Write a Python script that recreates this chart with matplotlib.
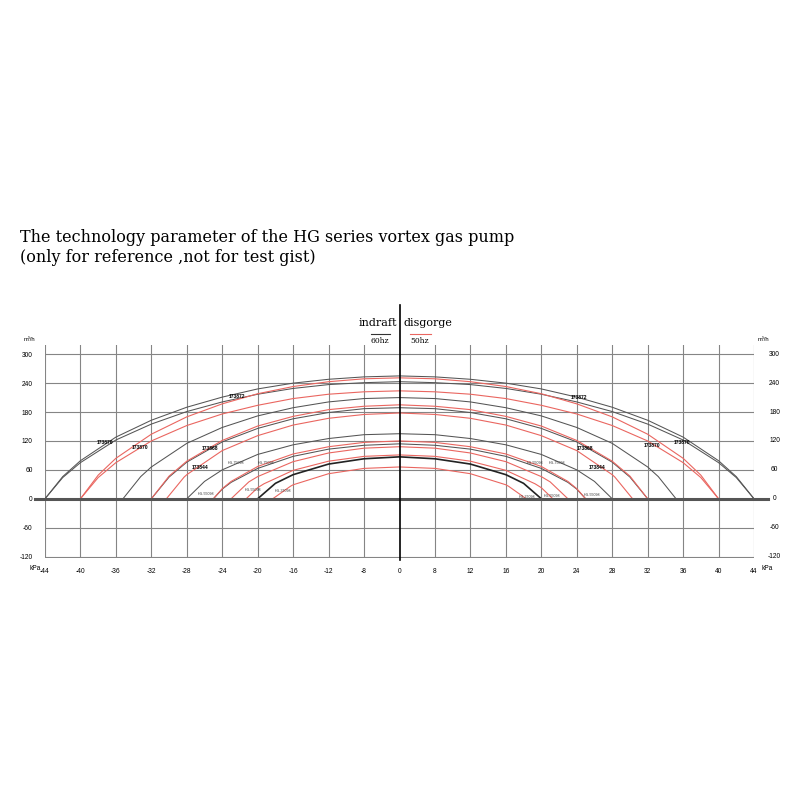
import numpy as np
import matplotlib.pyplot as plt

# axis ticks (the pressure axis is not linear: -8..8 gets one grid step)
kpa_ticks = [-44, -40, -36, -32, -28, -24, -20, -16, -12, -8, 0,
             8, 12, 16, 20, 24, 28, 32, 36, 40, 44]
flow_ticks = [300, 240, 180, 120, 60, 0, -60, -120]

# pressure stations (kPa) where the flow of each curve was read
stations = [0, 8, 12, 16, 20, 24, 28, 32, 36, 40]

# 60hz curves (black): pressure at zero flow, flow at each station,
# and flow 2 kPa before the zero-flow end
black_end = [44, 44, 35.2, 32, 28, 25, 20]
black_flow = [
    [255, 253, 248, 240, 228, 211, 190, 163, 128, 79],
    [243, 241, 237, 229, 217, 201, 181, 155, 122, 75],
    [210, 208, 201, 189, 172, 148, 115, 66],
    [189, 187, 179, 166, 146, 118, 76],
    [135, 133, 125, 112, 92, 60],
    [114, 111, 103, 88, 63, 20],
    [87, 83, 72, 50],
]
black_foot = [46, 44, 46, 45, 36, 34, 32]

# 50hz curves (red)
red_end = [40, 40, 32, 30.3, 25, 23, 21.3, 18.3]
red_flow = [
    [251, 249, 243, 233, 218, 197, 170, 134, 84],
    [224, 222, 217, 208, 194, 176, 152, 120, 75],
    [195, 192, 185, 171, 151, 121, 78],
    [178, 175, 167, 153, 131, 100, 50],
    [120, 117, 108, 93, 67, 21],
    [108, 105, 95, 77, 46],
    [91, 88, 78, 59, 23],
    [66, 63, 52, 29],
]
red_foot = [49, 44, 47, 45, 36, 35, 31, 26]

# curve labels: text, kPa, flow
big_labels = [
    ("173870", -37.2, 116), ("173870", -33.3, 106), ("173872", -22.3, 212),
    ("173868", -25.4, 104), ("173844", -26.5, 64),
    ("173872", 24.2, 210), ("173870", 32.5, 110), ("173870", 35.9, 116),
    ("173868", 24.9, 104), ("173844", 26.3, 64),
]
small_labels = [
    ("HG-75098", -22.4, 75), ("HG-75098", -19.1, 75), ("HG-55098", -25.8, 10),
    ("HG-55098", -20.5, 19), ("HG-37098", -17.2, 17),
    ("HG-55098", 19.3, 75), ("HG-75098", 21.8, 75), ("HG-37098", 18.4, 4),
    ("HG-55098", 21.2, 6), ("HG-55098", 25.7, 8),
]

# kPa -> grid position, extended linearly past the ends
kp = np.array([-1044] + kpa_ticks + [1044], dtype=float)
ps = np.array([-250] + list(range(21)) + [270], dtype=float)


def fwd(x):
    return np.interp(x, kp, ps)


def inv(p):
    return np.interp(p, ps, kp)


fig = plt.figure(figsize=(8, 8), dpi=100)
ax = fig.add_axes([45 / 800, 242 / 800, 709 / 800, 213.4 / 800])
ax.set_xscale('function', functions=(fwd, inv))
ax.set_xlim(-44, 44)
ax.set_ylim(-123, 320)
for s in ax.spines.values():
    s.set_visible(False)

# grid
for k in kpa_ticks:
    if k != 0:
        ax.axvline(k, color='#858585', lw=0.8, zorder=1)
for f in flow_ticks:
    if f != 0:
        ax.axhline(f, color='#858585', lw=0.8, zorder=1)
ax.plot([-0.014, 1.02], [0, 0], transform=ax.get_yaxis_transform(),
        color='#555555', lw=2.2, clip_on=False, zorder=3)
ax.plot([0, 0], [-0.01, 1.186], transform=ax.get_xaxis_transform(),
        color='black', lw=1.2, clip_on=False, zorder=3)


def draw(end, flow, foot, color, lw):
    x = np.array(stations[:len(flow)] + [end - 2, end], dtype=float)
    y = np.array(flow + [foot, 0], dtype=float)
    o = np.argsort(x)
    x, y = x[o], y[o]
    xs = np.concatenate([-x[::-1], x[1:]])
    ys = np.concatenate([y[::-1], y[1:]])
    ax.plot(xs, ys, color=color, lw=lw, zorder=2, solid_joinstyle='round')


last = len(black_end) - 1
for i, (e, f, ft) in enumerate(zip(black_end, black_flow, black_foot)):
    draw(e, f, ft, '#222222' if i == last else '#555555',
         1.2 if i == last else 0.75)
for e, f, ft in zip(red_end, red_flow, red_foot):
    draw(e, f, ft, '#ea6660', 0.8)

for t, x, y in big_labels:
    ax.text(x, y, t, fontsize=3.6, fontweight='bold', ha='center',
            va='center', family='Liberation Sans', zorder=4)
for t, x, y in small_labels:
    ax.text(x, y, t, fontsize=2.6, ha='center', va='center',
            family='Liberation Sans', color='#333333', zorder=4)

# ticks and tick labels
ax.set_xticks(kpa_ticks)
ax.set_xticklabels([str(k) for k in kpa_ticks])
ax.set_yticks(flow_ticks)
ax.set_yticklabels([str(f) for f in flow_ticks])
ax.tick_params(length=0, labelsize=4.8, pad=7, labelfontfamily='Liberation Sans')
ax.tick_params(axis='y', pad=9)
yt = ax.get_yaxis_transform()
for f in flow_ticks:
    ax.text(1.029, f, str(f), transform=yt, fontsize=4.8, ha='center',
            va='center', family='Liberation Sans')
ax.text(-0.022, 330, 'm³/h', transform=yt, fontsize=4.2, ha='center',
        va='center', family='Liberation Sans')
ax.text(1.013, 330, 'm³/h', transform=yt, fontsize=4.2, ha='center',
        va='center', family='Liberation Sans')
fig.text(35 / 800, 1 - 568 / 800, 'kPa', fontsize=4.8, ha='center',
         va='center', family='Liberation Sans')
fig.text(767 / 800, 1 - 568 / 800, 'kPa', fontsize=4.8, ha='center',
         va='center', family='Liberation Sans')

# header
fig.text(20 / 800, 1 - 238 / 800,
         'The technology parameter of the HG series vortex gas pump',
         fontsize=11.5, family='DejaVu Serif', va='center')
fig.text(20 / 800, 1 - 258 / 800, '(only for reference ,not for test gist)',
         fontsize=11.5, family='DejaVu Serif', va='center')
fig.text(397 / 800, 1 - 323 / 800, 'indraft', fontsize=8, ha='right',
         va='center', family='DejaVu Serif')
fig.text(403 / 800, 1 - 323 / 800, 'disgorge', fontsize=8, ha='left',
         va='center', family='DejaVu Serif')
fig.text(380 / 800, 1 - 341 / 800, '60hz', fontsize=5.5, ha='center',
         va='center', family='DejaVu Serif')
fig.text(420 / 800, 1 - 341 / 800, '50hz', fontsize=5.5, ha='center',
         va='center', family='DejaVu Serif')
fig.add_artist(plt.Line2D([371 / 800, 390 / 800], [1 - 334 / 800] * 2,
                          color='#333333', lw=0.8))
fig.add_artist(plt.Line2D([410 / 800, 431 / 800], [1 - 334 / 800] * 2,
                          color='#ea6660', lw=0.8))

fig.savefig('out.png', dpi=100)
